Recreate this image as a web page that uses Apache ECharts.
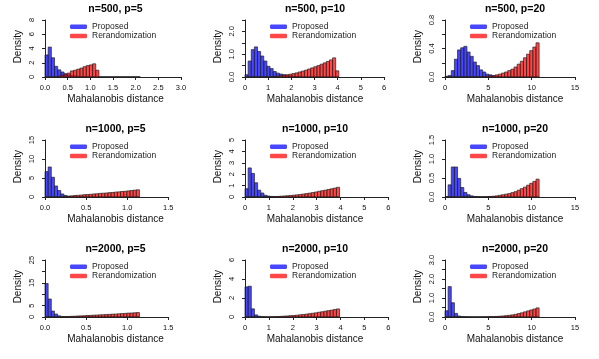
<!DOCTYPE html>
<html>
<head>
<meta charset="utf-8">
<script src="https://cdn.jsdelivr.net/npm/echarts@6/dist/echarts.min.js"></script>
<style>
  html, body { margin: 0; padding: 0; background: #fff; }
  #chart { width: 599px; height: 359px; }
</style>
</head>
<body>
<div id="chart"></div>
<script>
// panel titles, row by row
const panelTitles = [
  'n=500, p=5', 'n=500, p=10', 'n=500, p=20',
  'n=1000, p=5', 'n=1000, p=10', 'n=1000, p=20',
  'n=2000, p=5', 'n=2000, p=10', 'n=2000, p=20'
];
const seriesNames = ['Proposed', 'Rerandomization'];

// histogram bin width of each panel (30 bins starting at 0)
const binWidths = [0.07, 0.135, 0.362, 0.0383, 0.132, 0.362, 0.0383, 0.132, 0.362];

// density of each bin, Proposed
const proposedDensity = [
  [3.1, 4.2, 2.7, 1.5, 1.0, 0.7, 0.45, 0.3, 0.2, 0.15, 0.1, 0.07, 0.05, 0.03, 0.02, 0.01, 0.01, 0, 0, 0, 0, 0, 0, 0, 0, 0, 0, 0, 0, 0],
  [0.1, 0.7, 1.2, 1.32, 1.12, 0.92, 0.7, 0.47, 0.37, 0.24, 0.17, 0.13, 0.1, 0.07, 0.05, 0.03, 0.02, 0.01, 0, 0, 0, 0, 0, 0, 0, 0, 0, 0, 0, 0],
  [0.01, 0.02, 0.09, 0.25, 0.38, 0.41, 0.43, 0.35, 0.29, 0.21, 0.16, 0.1, 0.07, 0.04, 0.03, 0.015, 0.01, 0.005, 0, 0, 0, 0, 0, 0, 0, 0, 0, 0, 0, 0],
  [6.7, 7.9, 5.2, 2.9, 1.7, 0.8, 0.4, 0.2, 0.1, 0.05, 0.03, 0.02, 0.01, 0, 0, 0, 0, 0, 0, 0, 0, 0, 0, 0, 0, 0, 0, 0, 0, 0],
  [0.73, 2.55, 2.07, 1.25, 0.6, 0.35, 0.15, 0.08, 0.05, 0.03, 0.02, 0.01, 0, 0, 0, 0, 0, 0, 0, 0, 0, 0, 0, 0, 0, 0, 0, 0, 0, 0],
  [0.01, 0.32, 0.79, 0.79, 0.49, 0.25, 0.12, 0.06, 0.03, 0.015, 0.01, 0.005, 0, 0, 0, 0, 0, 0, 0, 0, 0, 0, 0, 0, 0, 0, 0, 0, 0, 0],
  [14.7, 7.9, 2.6, 1.3, 0.5, 0.2, 0.1, 0.05, 0.02, 0, 0, 0, 0, 0, 0, 0, 0, 0, 0, 0, 0, 0, 0, 0, 0, 0, 0, 0, 0, 0],
  [3.17, 3.24, 0.86, 0.22, 0.08, 0.03, 0.01, 0, 0, 0, 0, 0, 0, 0, 0, 0, 0, 0, 0, 0, 0, 0, 0, 0, 0, 0, 0, 0, 0, 0],
  [0.33, 1.6, 0.75, 0.19, 0.05, 0.02, 0.01, 0.005, 0, 0, 0, 0, 0, 0, 0, 0, 0, 0, 0, 0, 0, 0, 0, 0, 0, 0, 0, 0, 0, 0]
];

// density of each bin, Rerandomization
const rerandDensity = [
  [0, 0, 0, 0.03, 0.1, 0.25, 0.4, 0.55, 0.85, 0.95, 1.1, 1.25, 1.45, 1.6, 1.7, 1.85, 0.95, 0, 0, 0, 0, 0, 0, 0, 0, 0, 0, 0, 0, 0],
  [0, 0, 0, 0, 0, 0, 0, 0, 0, 0.02, 0.04, 0.06, 0.08, 0.1, 0.12, 0.15, 0.18, 0.22, 0.26, 0.3, 0.35, 0.4, 0.45, 0.5, 0.56, 0.62, 0.68, 0.75, 0.84, 0.27],
  [0, 0, 0, 0, 0, 0, 0, 0, 0, 0, 0, 0, 0.005, 0.01, 0.015, 0.02, 0.03, 0.04, 0.055, 0.07, 0.09, 0.11, 0.14, 0.18, 0.22, 0.27, 0.32, 0.37, 0.42, 0.48],
  [0, 0, 0, 0, 0, 0, 0.1, 0.2, 0.3, 0.4, 0.45, 0.5, 0.6, 0.65, 0.7, 0.8, 0.85, 0.95, 1.0, 1.05, 1.15, 1.2, 1.3, 1.35, 1.45, 1.5, 1.6, 1.7, 1.8, 1.9],
  [0, 0, 0, 0, 0, 0, 0, 0, 0.02, 0.03, 0.05, 0.07, 0.09, 0.11, 0.13, 0.16, 0.19, 0.22, 0.26, 0.3, 0.34, 0.39, 0.44, 0.5, 0.55, 0.6, 0.66, 0.72, 0.78, 0.85],
  [0, 0, 0, 0, 0, 0, 0, 0, 0, 0, 0, 0, 0.005, 0.01, 0.015, 0.02, 0.03, 0.045, 0.06, 0.075, 0.09, 0.115, 0.14, 0.18, 0.22, 0.26, 0.31, 0.36, 0.41, 0.47],
  [0, 0, 0, 0, 0, 0.05, 0.1, 0.2, 0.3, 0.35, 0.45, 0.5, 0.55, 0.65, 0.7, 0.8, 0.85, 0.95, 1.0, 1.1, 1.15, 1.25, 1.3, 1.4, 1.5, 1.6, 1.7, 1.75, 1.85, 1.95],
  [0, 0, 0, 0, 0, 0, 0, 0, 0.02, 0.03, 0.05, 0.07, 0.09, 0.11, 0.14, 0.16, 0.19, 0.23, 0.26, 0.3, 0.35, 0.39, 0.44, 0.5, 0.55, 0.61, 0.67, 0.72, 0.79, 0.85],
  [0, 0, 0, 0, 0, 0, 0, 0, 0, 0, 0, 0, 0.005, 0.01, 0.015, 0.02, 0.03, 0.04, 0.055, 0.07, 0.09, 0.11, 0.14, 0.18, 0.22, 0.27, 0.32, 0.37, 0.42, 0.48]
];

// axis ticks
const xTickMax = [3, 6, 15, 1.5, 6, 15, 1.5, 6, 15];
const xTickStep = [0.5, 1, 5, 0.5, 1, 5, 0.5, 1, 5];
const xDecimals = [1, 0, 0, 1, 0, 0, 1, 0, 0];
const yTickMax = [8, 2.5, 0.8, 15, 5, 1.5, 25, 6, 3];
const yTickStep = [2, 0.5, 0.2, 5, 1, 0.5, 5, 2, 0.5];
const yTickLabels = [
  [0, 2, 4, 6, 8], [0, 1, 2], [0, 0.4, 0.8],
  [0, 5, 10, 15], [0, 1, 2, 3, 4, 5], [0, 0.5, 1, 1.5],
  [0, 5, 15, 25], [0, 2, 4, 6], [0, 1, 2, 3]
];
const yDecimals = [0, 1, 1, 0, 0, 1, 0, 0, 1];

// layout in px
const colX0 = [45, 245, 445];
const xAxisEnd = [181, 384, 575, 168.3, 388.3, 575, 168.3, 388.3, 575];
const rowTop = [20, 140, 260];
const plotH = 57;
const colCenter = [115.5, 315, 515];

const FONT = '"Liberation Sans", Arial, Helvetica, sans-serif';
const colors = ['rgba(0,0,255,0.72)', 'rgba(255,0,0,0.72)'];

const chart = echarts.init(document.getElementById('chart'));

function renderBin(params, api) {
  const p0 = api.coord([api.value(0), api.value(2)]);
  const p1 = api.coord([api.value(1), 0]);
  return {
    type: 'rect',
    shape: { x: p0[0], y: p0[1], width: p1[0] - p0[0], height: p1[1] - p0[1] },
    style: { fill: api.visual('color'), stroke: '#222', lineWidth: 0.7 }
  };
}

const grid = [], xAxis = [], yAxis = [], series = [], title = [], legend = [], graphic = [];

for (let i = 0; i < 9; i++) {
  const r = Math.floor(i / 3), c = i % 3;
  grid.push({
    left: colX0[c], top: rowTop[r],
    width: xAxisEnd[i] - colX0[c], height: plotH,
    outerBoundsMode: 'none'
  });
  xAxis.push({
    type: 'value', gridIndex: i, min: 0, max: xTickMax[i], interval: xTickStep[i],
    offset: 3,
    splitLine: { show: false },
    axisLine: { show: true, lineStyle: { color: '#222', width: 1 } },
    axisTick: { show: true, length: 3, lineStyle: { color: '#222' } },
    axisLabel: {
      show: true, fontSize: 7.5, color: '#111', fontFamily: FONT, margin: 3.5,
      showMinLabel: true, showMaxLabel: true,
      formatter: (v) => v.toFixed(xDecimals[i])
    }
  });
  yAxis.push({
    type: 'value', gridIndex: i, min: 0, max: yTickMax[i], interval: yTickStep[i],
    offset: 6,
    splitLine: { show: false },
    axisLine: { show: true, lineStyle: { color: '#222', width: 1 } },
    axisTick: { show: true, length: 3, lineStyle: { color: '#222' } },
    axisLabel: {
      show: true, fontSize: 7.5, color: '#111', fontFamily: FONT, margin: 3, rotate: 90,
      showMinLabel: true, showMaxLabel: true,
      formatter: (v) => yTickLabels[i].some((s) => Math.abs(s - v) < 1e-9) ? v.toFixed(yDecimals[i]) : ''
    }
  });
  [proposedDensity, rerandDensity].forEach((dens, s) => {
    const w = binWidths[i];
    series.push({
      type: 'custom',
      name: seriesNames[s],
      xAxisIndex: i, yAxisIndex: i,
      renderItem: renderBin,
      itemStyle: { color: colors[s] },
      encode: { x: [0, 1], y: 2 },
      clip: false,
      data: dens[i].map((d, k) => [k * w, (k + 1) * w, d])
    });
  });
  title.push({
    text: panelTitles[i],
    left: colCenter[c], top: 3.5 + 120 * r, textAlign: 'center', padding: 0,
    textStyle: { fontSize: 10.5, fontWeight: 'bold', color: '#000', fontFamily: FONT }
  });
  legend.push({
    data: seriesNames,
    orient: 'vertical',
    left: 70 + 200 * c, top: 22.2 + 120 * r,
    padding: 0, itemGap: 0.3, itemWidth: 17, itemHeight: 4.5,
    icon: 'roundRect', selectedMode: false,
    textStyle: { fontSize: 8.5, lineHeight: 9, color: '#222', fontFamily: FONT }
  });
  graphic.push({
    type: 'text', x: colCenter[c], y: 99 + 120 * r,
    style: { text: 'Mahalanobis distance', fill: '#111', font: '10px ' + FONT,
             textAlign: 'center', textVerticalAlign: 'middle', align: 'center', verticalAlign: 'middle' }
  });
  graphic.push({
    type: 'text', x: 18.3 + 200 * c, y: 46.7 + 120 * r, rotation: Math.PI / 2,
    style: { text: 'Density', fill: '#111', font: '10px ' + FONT,
             textAlign: 'center', textVerticalAlign: 'middle', align: 'center', verticalAlign: 'middle' }
  });
}

chart.setOption({
  animation: false,
  backgroundColor: '#fff',
  title, legend, grid, xAxis, yAxis, series, graphic
});
</script>
</body>
</html>
